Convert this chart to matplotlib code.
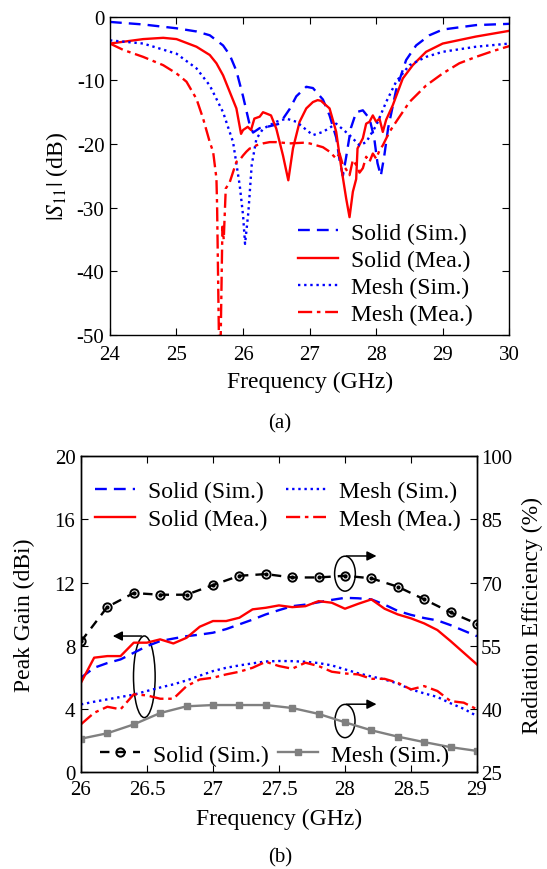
import matplotlib
matplotlib.use('Agg')
import matplotlib.pyplot as plt
from matplotlib.patches import Ellipse

plt.rcParams['font.family'] = ['Liberation Serif', 'DejaVu Serif']
plt.rcParams['mathtext.fontset'] = 'stix'
plt.rcParams['axes.unicode_minus'] = False
plt.rcParams['xtick.direction'] = 'in'
plt.rcParams['ytick.direction'] = 'in'
plt.rcParams['axes.linewidth'] = 1.0

# ---- (a) reflection coefficient ----
solid_sim_f = [24, 24.5, 25, 25.3, 25.5, 25.7, 25.8, 25.9, 26.0, 26.1, 26.15, 26.25, 26.4,
               26.55, 26.7, 26.8, 26.95, 27.05, 27.2, 27.3, 27.4, 27.45, 27.5, 27.55, 27.62,
               27.7, 27.8, 27.9, 27.97, 28.02, 28.07, 28.12, 28.18, 28.3, 28.45, 28.6, 28.8,
               29.0, 29.5, 30]
solid_sim_s = [-0.8, -1.2, -1.8, -2.3, -2.9, -4.5, -6.0, -8.5, -12.5, -17.0, -18.2, -17.5, -17.2,
               -16.8, -14.5, -12.5, -11.0, -11.2, -13.0, -15.5, -19.0, -22.5, -25.0, -22.0, -17.5,
               -15.0, -14.7, -16.0, -19.0, -23.0, -25.0, -22.0, -17.5, -11.5, -6.8, -4.5, -2.9,
               -2.0, -1.3, -1.1]

solid_mea_f = [24, 24.5, 24.8, 25.0, 25.3, 25.5, 25.6, 25.7, 25.8, 25.9, 25.97, 26.0, 26.07,
               26.12, 26.17, 26.25, 26.3, 26.35, 26.42, 26.5, 26.6, 26.68, 26.75, 26.85, 26.95,
               27.05, 27.12, 27.17, 27.3, 27.4, 27.47, 27.55, 27.6, 27.65, 27.7, 27.72, 27.8,
               27.85, 27.9, 27.95, 28.0, 28.05, 28.1, 28.15, 28.25, 28.4, 28.55, 28.75, 29.0,
               29.5, 30]
solid_mea_s = [-4.2, -3.5, -3.3, -3.5, -4.7, -6.0, -7.3, -9.2, -11.8, -14.4, -18.4, -17.8, -17.3,
               -17.8, -16.0, -15.7, -15.0, -15.2, -15.5, -17.6, -21.8, -25.7, -20.7, -16.5, -14.4,
               -13.4, -13.1, -13.2, -14.4, -18.1, -23.3, -28.6, -31.5, -27.5, -25.5, -20.7, -19.1,
               -16.8, -16.5, -15.5, -16.5, -16.0, -18.1, -16.2, -13.9, -9.7, -7.6, -5.5, -4.2,
               -3.1, -2.2]

mesh_sim_f = [24, 24.5, 25, 25.3, 25.5, 25.7, 25.85, 25.95, 26.0, 26.03, 26.08, 26.13, 26.2,
              26.3, 26.5, 26.65, 26.8, 27.05, 27.2, 27.4, 27.6, 27.75, 27.85, 28.0, 28.15, 28.3,
              28.5, 28.75, 29.0, 29.5, 30]
mesh_sim_s = [-3.7, -4.2, -5.8, -8.1, -10.8, -15.0, -19.7, -26.5, -31.2, -35.7, -30.7, -23.3, -19.2,
              -17.6, -16.5, -16.0, -16.5, -18.6, -18.1, -16.8, -18.6, -20.2, -19.7, -17.1, -13.4,
              -10.2, -7.6, -6.3, -5.5, -4.7, -4.2]

mesh_mea_f = [24, 24.2, 24.5, 24.8, 25.0, 25.15, 25.3, 25.4, 25.5, 25.55, 25.6, 25.61, 25.65,
              25.69, 25.71, 25.74, 25.8, 25.85, 25.9, 25.95, 26.0, 26.05, 26.1, 26.15, 26.2,
              26.3, 26.4, 26.5, 26.7, 26.9, 27.0, 27.1, 27.2, 27.3, 27.4, 27.45, 27.5, 27.55,
              27.6, 27.65, 27.7, 27.75, 27.8, 27.85, 27.9, 27.95, 28.0, 28.05, 28.1, 28.2, 28.3,
              28.5, 28.75, 29.0, 29.25, 29.5, 29.75, 30]
mesh_mea_s = [-4.2, -5.2, -6.3, -7.6, -8.9, -10.2, -12.9, -16.0, -19.7, -21.2, -25.4, -29.7, -60.0,
              -33.0, -35.0, -27.0, -26.0, -24.4, -22.8, -22.5, -21.8, -21.2, -20.7, -20.6, -20.2,
              -19.9, -19.7, -19.7, -19.9, -19.8, -19.9, -20.2, -20.5, -21.2, -22.3, -21.5, -23.3,
              -24.0, -24.9, -22.5, -23.3, -24.5, -23.8, -22.0, -22.8, -21.5, -22.3, -21.0, -20.2,
              -18.1, -16.5, -13.4, -10.8, -8.9, -7.3, -6.3, -5.4, -4.6]

# ---- (b) peak gain and radiation efficiency ----
gain_f = [26.0, 26.1, 26.2, 26.3, 26.4, 26.5, 26.6, 26.7, 26.8, 26.9, 27.0, 27.1, 27.2, 27.3,
          27.4, 27.5, 27.6, 27.7, 27.8, 27.9, 28.0, 28.1, 28.2, 28.3, 28.4, 28.5, 28.6, 28.7,
          28.8, 28.9, 29.0]
gain_solid_sim = [5.97, 6.6, 6.9, 7.13, 7.55, 7.97, 8.29, 8.45, 8.6, 8.7, 8.82, 9.05, 9.35, 9.65,
                  9.98, 10.25, 10.5, 10.6, 10.75, 10.9, 11.03, 11.0, 10.93, 10.6, 10.2, 9.95, 9.75,
                  9.6, 9.3, 8.95, 8.6]
gain_solid_mea = [5.65, 7.24, 7.34, 7.34, 8.19, 8.19, 8.4, 8.14, 8.5, 9.2, 9.56, 9.56, 9.77, 10.3,
                  10.4, 10.55, 10.44, 10.5, 10.82, 10.72, 10.34, 10.65, 10.93, 10.34, 9.98, 9.73,
                  9.41, 8.99, 8.29, 7.55, 6.81]
gain_mesh_sim = [4.28, 4.45, 4.6, 4.75, 4.9, 5.13, 5.35, 5.55, 5.8, 6.1, 6.39, 6.6, 6.75, 6.88,
                 7.0, 7.03, 7.02, 6.98, 6.9, 6.75, 6.5, 6.25, 6.05, 5.86, 5.6, 5.23, 4.98, 4.75,
                 4.35, 4.0, 3.54]
gain_mesh_mea = [3.02, 3.75, 4.13, 3.97, 4.92, 4.85, 4.64, 4.64, 5.44, 5.86, 5.97, 6.18, 6.35, 6.6,
                 6.98, 6.71, 6.54, 6.92, 6.71, 6.35, 6.24, 6.18, 5.9, 5.9, 5.65, 5.23, 5.44, 5.13,
                 4.49, 4.39, 3.97]

eff_f = [26.0, 26.2, 26.4, 26.6, 26.8, 27.0, 27.2, 27.4, 27.6, 27.8, 28.0, 28.2, 28.4, 28.6,
         28.8, 29.0]
eff_solid = [56.0, 64.2, 67.5, 67.1, 67.1, 69.4, 71.6, 72.0, 71.2, 71.2, 71.6, 71.0, 69.0, 66.0,
             62.9, 60.2]
eff_mesh = [32.9, 34.2, 36.3, 39.0, 40.6, 40.9, 40.9, 40.9, 40.2, 38.8, 36.8, 34.9, 33.4, 32.1,
            30.9, 30.0]

fs_tick = 15
fs_lab = 17
lw = 1.7
leg_kw = dict(frameon=False, fontsize=fs_lab, handlelength=1.7, handletextpad=0.55,
              borderpad=0.0, borderaxespad=0.0)

fig = plt.figure(figsize=(5.47, 8.7), dpi=100)

ax = fig.add_axes([0.201, 0.614, 0.730, 0.3655])
ax.plot(solid_sim_f, solid_sim_s, color='blue', ls=(0, (5, 3)), lw=lw, label='Solid (Sim.)')
ax.plot(solid_mea_f, solid_mea_s, color='red', ls='-', lw=lw, label='Solid (Mea.)')
ax.plot(mesh_sim_f, mesh_sim_s, color='blue', ls=(0, (1, 1.6)), lw=lw, label='Mesh (Sim.)')
ax.plot(mesh_mea_f, mesh_mea_s, color='red', ls=(0, (6, 2, 1.5, 2)), lw=lw, label='Mesh (Mea.)')
ax.set_xlim(24, 30)
ax.set_ylim(-50, 0)
ax.set_xticks(range(24, 31))
ax.set_yticks(range(-50, 1, 10))
ax.tick_params(labelsize=fs_tick, top=True, right=True, length=5)
ax.tick_params(axis='x', pad=7)
ax.tick_params(axis='y', pad=4)
ax.set_xlabel('Frequency (GHz)', fontsize=fs_lab, labelpad=5)
ax.set_ylabel(r'$|S_{11}|$ (dB)', fontsize=fs_lab, labelpad=5)
ax.legend(loc='lower left', bbox_to_anchor=(0.471, 0.03), labelspacing=0.24, **leg_kw)
fig.text(0.512, 0.5126, '(a)', ha='center', va='center', fontsize=fs_tick)

# gain on the left axis, efficiency on the right axis
bx = fig.add_axes([0.148, 0.1115, 0.724, 0.363])
bx.plot(gain_f, gain_solid_sim, color='blue', ls=(0, (5, 3)), lw=lw, label='Solid (Sim.)')
bx.plot(gain_f, gain_solid_mea, color='red', ls='-', lw=lw, label='Solid (Mea.)')
bx.plot(gain_f, gain_mesh_sim, color='blue', ls=(0, (1, 1.6)), lw=lw, label='Mesh (Sim.)')
bx.plot(gain_f, gain_mesh_mea, color='red', ls=(0, (6, 2, 1.5, 2)), lw=lw, label='Mesh (Mea.)')
bx.set_xlim(26, 29)
bx.set_ylim(0, 20)
bx.set_xticks([26, 26.5, 27, 27.5, 28, 28.5, 29])
bx.set_xticklabels(['26', '26.5', '27', '27.5', '28', '28.5', '29'])
bx.set_yticks(range(0, 21, 4))
bx.tick_params(labelsize=fs_tick, top=True, length=5)
bx.tick_params(axis='x', pad=6)
bx.tick_params(axis='y', pad=4)
bx.set_xlabel('Frequency (GHz)', fontsize=fs_lab, labelpad=6)
bx.set_ylabel('Peak Gain (dBi)', fontsize=fs_lab, labelpad=14)
bx.legend(loc='upper left', ncol=2, bbox_to_anchor=(0.035, 0.922), labelspacing=0.26,
          columnspacing=0.8, **leg_kw)

bx2 = bx.twinx()
bx2.plot(eff_f, eff_solid, color='black', ls=(0, (4, 3)), lw=lw, marker='o', ms=6,
         mfc='none', mew=1.4, label='Solid (Sim.)')
bx2.plot(eff_f, eff_solid, color='black', ls='none', marker='o', ms=2, zorder=3)
bx2.plot(eff_f, eff_mesh, color='#808080', ls='-', lw=lw, marker='s', ms=5,
         label='Mesh (Sim.)')
bx2.set_ylim(25, 100)
bx2.set_yticks(range(25, 101, 15))
bx2.tick_params(labelsize=fs_tick, length=5, pad=3)
bx2.set_ylabel('Radiation Efficiency (%)', fontsize=fs_lab, labelpad=7)
bx2.legend(handles=bx2.lines[0:1] + bx2.lines[2:3], loc='lower left', ncol=2,
           bbox_to_anchor=(0.048, 0.02), columnspacing=0.4, **leg_kw)

# ellipses marking which axis each group belongs to
bx.add_patch(Ellipse((26.48, 6.03), 0.164, 5.17, fill=False, ec='black', lw=1.1))
bx.annotate('', xy=(26.22, 8.61), xytext=(26.48, 8.61),
            arrowprops=dict(arrowstyle='-|>', color='black', lw=1.1, mutation_scale=14))
bx2.add_patch(Ellipse((28.0, 72.1), 0.157, 8.3, fill=False, ec='black', lw=1.1))
bx2.annotate('', xy=(28.26, 76.3), xytext=(27.99, 76.3),
             arrowprops=dict(arrowstyle='-|>', color='black', lw=1.1, mutation_scale=14))
bx2.add_patch(Ellipse((28.0, 37.1), 0.152, 7.9, fill=False, ec='black', lw=1.1))
bx2.annotate('', xy=(28.26, 41.1), xytext=(27.99, 41.1),
             arrowprops=dict(arrowstyle='-|>', color='black', lw=1.1, mutation_scale=14))

fig.text(0.512, 0.0138, '(b)', ha='center', va='center', fontsize=fs_tick)

fig.savefig('out.png', dpi=100)
